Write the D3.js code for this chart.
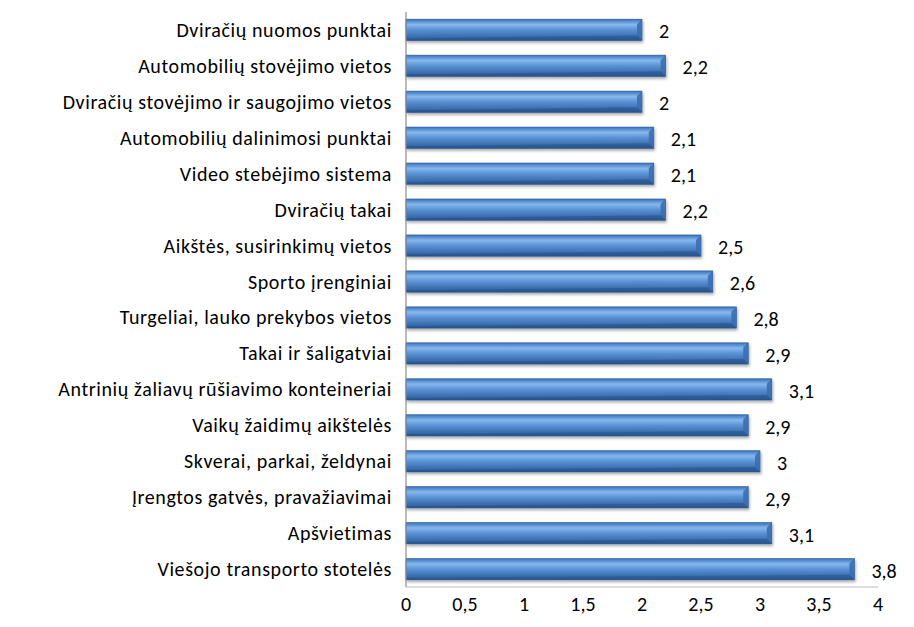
<!DOCTYPE html>
<html>
<head>
<meta charset="utf-8">
<script src="https://cdn.jsdelivr.net/npm/d3@7"></script>
<style>
  body { margin: 0; background: #fff; }
  svg text { font-family: Carlito, "Open Sans", Lato, sans-serif; fill: #000; }
</style>
</head>
<body>
<svg id="chart" width="914" height="627"></svg>
<script>
"use strict";

const categories = [
	"Dviračių nuomos punktai",
	"Automobilių stovėjimo vietos",
	"Dviračių stovėjimo ir saugojimo vietos",
	"Automobilių dalinimosi punktai",
	"Video stebėjimo sistema",
	"Dviračių takai",
	"Aikštės, susirinkimų vietos",
	"Sporto įrenginiai",
	"Turgeliai, lauko prekybos vietos",
	"Takai ir šaligatviai",
	"Antrinių žaliavų rūšiavimo konteineriai",
	"Vaikų žaidimų aikštelės",
	"Skverai, parkai, želdynai",
	"Įrengtos gatvės, pravažiavimai",
	"Apšvietimas",
	"Viešojo transporto stotelės",
];
const values = [2, 2.2, 2, 2.1, 2.1, 2.2, 2.5, 2.6, 2.8, 2.9, 3.1, 2.9, 3, 2.9, 3.1, 3.8];
const ticks = [0, 0.5, 1, 1.5, 2, 2.5, 3, 3.5, 4];

const fmt = (v) => String(v).replace(".", ",");

const svg = d3.select("#chart");
const margin = { left: 406, top: 12, right: 36, bottom: 40 };
const height = 627 - margin.top - margin.bottom;
const fs = 20;

const x = d3.scaleLinear().domain([0, 4]).range([0, 472]);
const y = d3.scaleBand().domain(categories).range([0, height]).paddingInner(0.41).paddingOuter(0.2);

// gradient for the bevelled bars
const defs = svg.append("defs");
const grad = defs.append("linearGradient")
	.attr("id", "barGrad")
	.attr("x1", 0).attr("y1", 0).attr("x2", 0).attr("y2", 1);
grad.append("stop").attr("offset", "0%").attr("stop-color", "#3a72bd");
grad.append("stop").attr("offset", "25%").attr("stop-color", "#86b8ee");
grad.append("stop").attr("offset", "50%").attr("stop-color", "#5a92d5");
grad.append("stop").attr("offset", "100%").attr("stop-color", "#2b5b97");

const filter = defs.append("filter").attr("id", "shadow")
	.attr("x", "-5%").attr("y", "-30%").attr("width", "115%").attr("height", "170%");
filter.append("feDropShadow")
	.attr("dx", 1).attr("dy", 2).attr("stdDeviation", 1.5)
	.attr("flood-color", "#000").attr("flood-opacity", 0.35);

const g = svg.append("g").attr("transform", `translate(${margin.left},${margin.top})`);

const bh = y.bandwidth();

// category labels
g.selectAll(".cat")
	.data(categories)
	.enter()
	.append("text")
	.attr("class", "cat")
	.attr("x", -14)
	.attr("y", (d) => y(d) + bh / 2 + fs * 0.35)
	.attr("text-anchor", "end")
	.attr("font-size", fs)
	.attr("letter-spacing", 0.6)
	.text((d) => d);

const bars = g.selectAll(".bar")
	.data(categories)
	.enter()
	.append("g")
	.attr("class", "bar")
	.attr("transform", (d) => `translate(0,${y(d)})`);

bars.append("rect")
	.attr("x", 0)
	.attr("y", 0)
	.attr("width", (d, i) => x(values[i]))
	.attr("height", bh)
	.attr("fill", "url(#barGrad)")
	.attr("stroke", "#27558f")
	.attr("stroke-width", 0.6)
	.attr("filter", "url(#shadow)");

// bevelled end cap
const bev = 5;
bars.append("path")
	.attr("d", (d, i) => {
		const w = x(values[i]);
		return `M${w - bev},${bev} L${w},0 L${w},${bh} L${w - bev},${bh - bev} Z`;
	})
	.attr("fill", "#3a6fb2")
	.attr("opacity", 0.9);
bars.append("path")
	.attr("d", (d, i) => {
		const w = x(values[i]);
		return `M${w - bev},${bh - bev} L${w},${bh} L0,${bh} L0,${bh - 2} Z`;
	})
	.attr("fill", "#244e85")
	.attr("opacity", 0.5);

// value labels
bars.append("text")
	.attr("x", (d, i) => x(values[i]) + 17)
	.attr("y", bh / 2 + fs * 0.42)
	.attr("font-size", fs)
	.text((d, i) => fmt(values[i]));

// axis lines
g.append("line")
	.attr("x1", 0).attr("x2", 0)
	.attr("y1", 0).attr("y2", height)
	.attr("stroke", "#8c8c8c").attr("stroke-width", 1.2);
g.append("line")
	.attr("x1", 0).attr("x2", x(4))
	.attr("y1", height).attr("y2", height)
	.attr("stroke", "#bdbdbd").attr("stroke-width", 1.2);

// x tick labels
g.selectAll(".tick")
	.data(ticks)
	.enter()
	.append("text")
	.attr("class", "tick")
	.attr("x", (d) => x(d))
	.attr("y", height + 17 + fs * 0.36)
	.attr("text-anchor", "middle")
	.attr("font-size", fs)
	.text((d) => fmt(d));
</script>
</body>
</html>
